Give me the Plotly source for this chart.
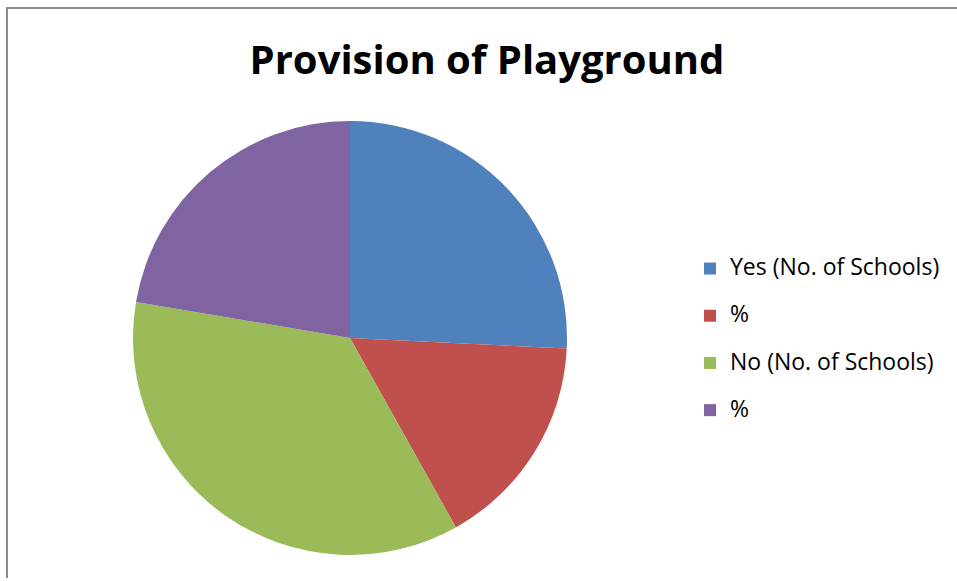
import plotly.graph_objects as go

labels = ["Yes (No. of Schools)", "%", "No (No. of Schools)", "%"]
values = [67, 41.9, 93, 58.1]
colors = ["#4F81BD", "#C0504D", "#9BBB59", "#8064A2"]
title_text = "Provision of Playground"

W, H = 957, 581
cx, cy, r = 350, 338, 217

# distinct slice keys (pie merges equal labels); legend entries keep the visible text
legend_names = [
    f"<span style='font-size:23px'>{l}</span><br>" + "\u00a0" * (i + 1)
    for i, l in enumerate(labels)
]

fig = go.Figure(go.Pie(
    labels=legend_names,
    values=values,
    customdata=labels,
    marker=dict(colors=colors, line=dict(width=0)),
    sort=False,
    direction="clockwise",
    rotation=0,
    textinfo="none",
    hovertemplate="%{customdata}: %{value}<extra></extra>",
    domain=dict(x=[(cx - r) / W, (cx + r) / W], y=[1 - (cy + r) / H, 1 - (cy - r) / H]),
))

border = dict(color="#8c8c8c", width=2)
fig.update_layout(
    width=W, height=H,
    margin=dict(l=0, r=0, t=0, b=0),
    paper_bgcolor="white",
    font=dict(family="Open Sans", color="black"),
    title=dict(text=f"<b>{title_text}</b>", x=487 / W, xanchor="center",
               y=1 - 60 / H, yanchor="middle", font=dict(size=40, color="black")),
    legend=dict(x=690 / W, y=1 - 251 / H, xanchor="left", yanchor="top",
                valign="top", font=dict(size=17, color="black"), bgcolor="rgba(0,0,0,0)"),
    shapes=[
        dict(type="line", xref="paper", yref="paper",
             x0=7 / W, x1=7 / W, y0=1 - 578 / H, y1=1 - 7 / H, line=border),
        dict(type="line", xref="paper", yref="paper",
             x0=6 / W, x1=1.0, y0=1 - 8 / H, y1=1 - 8 / H, line=border),
    ],
)

fig.write_html("out.html", config={"displayModeBar": False},
               post_script="document.body.style.margin='0';document.body.style.overflow='hidden';")
